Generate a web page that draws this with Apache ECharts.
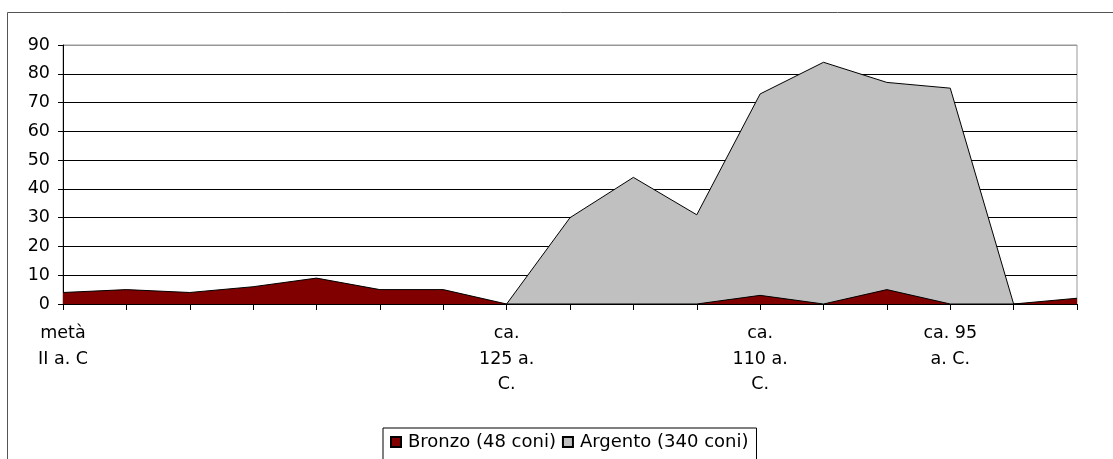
<!DOCTYPE html>
<html>
<head>
<meta charset="utf-8">
<script src="https://cdn.jsdelivr.net/npm/echarts@6/dist/echarts.min.js"></script>
<style>
  html, body { margin: 0; padding: 0; background: #fff; }
  #chart { width: 1113px; height: 459px; }
</style>
</head>
<body>
<div id="chart"></div>
<script>
// Time periods along the x axis (only some carry a label)
const categories = [
  'metà\nII a. C', '', '', '', '', '', '',
  'ca.\n125 a.\nC.', '', '', '',
  'ca.\n110 a.\nC.', '', '',
  'ca. 95\na. C.', '', ''
];

// Coin counts per period
const bronzo  = [4, 5, 4, 6, 9, 5, 5, 0, 0, 0, 0, 3, 0, 5, 0, 0, 2];
const argento = [null, null, null, null, null, null, null, 0, 30, 44, 31, 73, 84, 77, 75, 0, 0];

const yTicks = { min: 0, max: 90, interval: 10 };

const seriesNames = ['Bronzo (48 coni)', 'Argento (340 coni)'];

const font = '"DejaVu Sans", Arial, sans-serif';
const fontSize = 17.5;

const chart = echarts.init(document.getElementById('chart'), null, { renderer: 'canvas' });

// grid lines black, top one grey like the plot frame
const splitColors = ['#000', '#000', '#000', '#000', '#000', '#000', '#000', '#000', '#000', '#999'];

chart.setOption({
  animation: false,
  backgroundColor: '#fff',
  textStyle: { fontFamily: font },
  graphic: [{
    type: 'rect',
    shape: { x: 7.5, y: 12.5, width: 1200, height: 600 },
    style: { fill: 'none', stroke: '#555', lineWidth: 1 },
    silent: true
  }],
  grid: {
    left: 63, right: 36, top: 45, bottom: 155,
    show: true, borderColor: '#999', borderWidth: 1, backgroundColor: 'transparent'
  },
  legend: {
    data: seriesNames,
    left: 383, top: 428,
    orient: 'horizontal',
    icon: 'rect',
    itemWidth: 10, itemHeight: 10,
    itemGap: 6,
    padding: [5, 8, 30, 7],
    borderColor: '#000', borderWidth: 1,
    backgroundColor: '#fff',
    textStyle: { fontFamily: font, fontSize: 18, color: '#000', padding: [0, 0, 0, 2] }
  },
  xAxis: {
    type: 'category',
    data: categories,
    boundaryGap: false,
    axisLine: { show: true, lineStyle: { color: '#000', width: 1 } },
    axisTick: { show: true, interval: 0, length: 6, lineStyle: { color: '#000' } },
    axisLabel: {
      interval: 0, margin: 17, color: '#000',
      fontFamily: font, fontSize: fontSize, lineHeight: 25.5, align: 'center'
    },
    splitLine: { show: false }
  },
  yAxis: {
    type: 'value',
    min: yTicks.min, max: yTicks.max, interval: yTicks.interval,
    axisLine: { show: true, lineStyle: { color: '#000', width: 1 } },
    axisTick: { show: true, length: 5, lineStyle: { color: '#000' } },
    axisLabel: { margin: 13, color: '#000', fontFamily: font, fontSize: fontSize },
    splitLine: { show: true, lineStyle: { color: splitColors, width: 1 } }
  },
  series: [
    {
      name: seriesNames[0],
      type: 'line',
      data: bronzo,
      z: 3,
      symbol: 'none',
      lineStyle: { color: '#000', width: 1 },
      itemStyle: { color: '#800000', borderColor: '#000', borderWidth: 1 },
      areaStyle: { color: '#800000', opacity: 1 }
    },
    {
      name: seriesNames[1],
      type: 'line',
      data: argento,
      z: 2,
      symbol: 'none',
      lineStyle: { color: '#000', width: 1 },
      itemStyle: { color: '#C0C0C0', borderColor: '#000', borderWidth: 1 },
      areaStyle: { color: '#C0C0C0', opacity: 1 }
    }
  ]
});
</script>
</body>
</html>
